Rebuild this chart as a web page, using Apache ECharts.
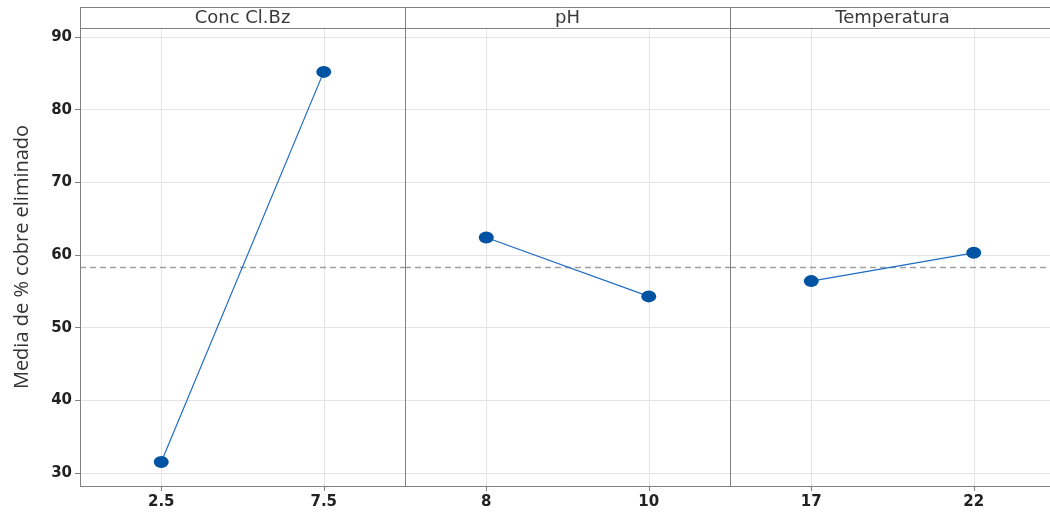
<!DOCTYPE html>
<html><head><meta charset="utf-8">
<script src="https://cdn.jsdelivr.net/npm/echarts@6/dist/echarts.min.js"></script>
<style>html,body{margin:0;padding:0;background:#fff;overflow:hidden}#c{width:1050px;height:513px}</style>
</head><body><div id="c"></div>
<script>
const panelTitles = ['Conc Cl.Bz', 'pH', 'Temperatura'];
const concLevels = ['2.5', '7.5'];
const concMeans = [31.5, 85.2];
const phLevels = ['8', '10'];
const phMeans = [62.4, 54.3];
const tempLevels = ['17', '22'];
const tempMeans = [56.4, 60.3];
const grandMean = 58.35;
const yTicks = [30, 40, 50, 60, 70, 80, 90];
const yName = 'Media de % cobre eliminado';

(function () {
const levels = [concLevels, phLevels, tempLevels];
const means = [concMeans, phMeans, tempMeans];
const font = '"Open Sans", "Noto Sans", sans-serif';
const wideFont = '"DejaVu Sans", "Open Sans", sans-serif';
const panelLeft = 80, panelW = 325, gTop = 28, gBottom = 27, headerTop = 7, H = 513;
const frame = '#808080';

const grids = [], xAxes = [], yAxes = [], series = [], graphics = [];
for (let i = 0; i < 3; i++) {
  grids.push({left: panelLeft + i * panelW, width: panelW, top: gTop, bottom: gBottom,
    outerBoundsMode: 'none', containLabel: false, show: false});
  xAxes.push({type: 'category', gridIndex: i, data: levels[i], boundaryGap: true,
    axisLine: {show: false},
    axisTick: {show: true, alignWithLabel: true, length: 5, lineStyle: {color: frame}},
    axisLabel: {color: '#222', fontFamily: wideFont, fontSize: 15, fontWeight: 'bold', margin: 9},
    splitLine: {show: false}});
  yAxes.push({type: 'value', gridIndex: i, min: 28.2, max: 91.24,
    axisLine: {show: false},
    axisTick: {show: i === 0, length: 5, lineStyle: {color: frame}, customValues: yTicks},
    axisLabel: {show: i === 0, color: '#222', fontFamily: wideFont, fontSize: 15, fontWeight: 'bold', margin: 8, customValues: yTicks},
    splitLine: {show: false},
    name: i === 0 ? yName : '', nameLocation: 'middle', nameGap: 48,
    nameTextStyle: {color: '#333', fontFamily: font, fontSize: 20}});
  series.push({type: 'line', xAxisIndex: i, yAxisIndex: i, data: [], z: 1, silent: true,
    markLine: {silent: true, symbol: 'none', label: {show: false}, animation: false,
      lineStyle: {color: '#e4e4e4', width: 1, type: 'solid'},
      data: levels[i].map(v => ({xAxis: v})).concat(yTicks.map(v => ({yAxis: v})))}});
  series.push({type: 'line', xAxisIndex: i, yAxisIndex: i, data: [], z: 2, silent: true,
    markLine: {silent: true, symbol: 'none', label: {show: false}, animation: false,
      lineStyle: {color: '#a0a0a0', width: 1.3, type: [6, 4]},
      data: [{yAxis: grandMean}]}});
  series.push({type: 'line', xAxisIndex: i, yAxisIndex: i, data: means[i], z: 5,
    symbol: 'circle', symbolSize: [15, 12], animation: false,
    lineStyle: {color: '#1f6cc4', width: 1.2},
    itemStyle: {color: '#0052a3'}});
  const x0 = panelLeft + i * panelW + 0.5;
  graphics.push({type: 'line', shape: {x1: x0, y1: headerTop, x2: x0, y2: H - gBottom + 0.5},
    style: {stroke: frame, lineWidth: 1}, z: 10});
  graphics.push({type: 'text', x: panelLeft + i * panelW + panelW / 2, y: headerTop + (gTop - headerTop) / 2 + 1,
    style: {text: panelTitles[i], fill: '#3a3a3a', font: '18px ' + wideFont, textAlign: 'center', textVerticalAlign: 'middle'}, z: 10});
}
[headerTop + 0.5, gTop + 0.5, H - gBottom + 0.5].forEach(y => {
  graphics.push({type: 'line', shape: {x1: panelLeft, y1: y, x2: 1060, y2: y},
    style: {stroke: frame, lineWidth: 1}, z: 10});
});

const chart = echarts.init(document.getElementById('c'), null, {renderer: 'canvas'});
chart.setOption({
  animation: false,
  grid: grids, xAxis: xAxes, yAxis: yAxes, series: series, graphic: graphics,
  tooltip: {show: false}
});
})();
</script></body></html>
